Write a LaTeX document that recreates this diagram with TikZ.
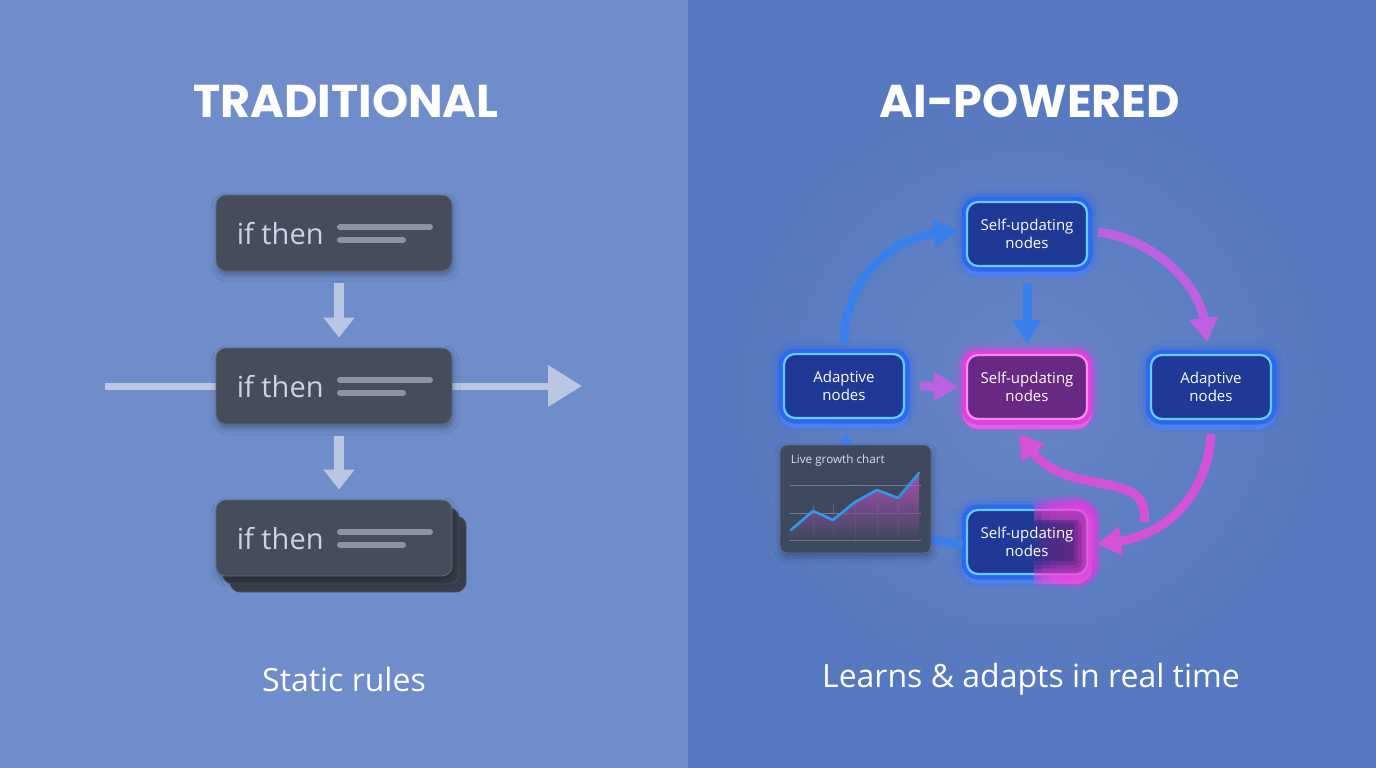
\documentclass[tikz,border=0pt]{standalone}
\usepackage{fontspec}
\setmainfont{Open Sans}
\newfontfamily\titlefont{Poppins}
\usetikzlibrary{arrows.meta,calc,shadows.blur}

\definecolor{bgL}{RGB}{111,141,203}
\definecolor{bgR}{RGB}{86,120,192}
\definecolor{slate}{RGB}{70,76,90}
\definecolor{slateedge}{RGB}{98,106,122}
\definecolor{slateback}{RGB}{56,61,74}
\definecolor{slatetext}{RGB}{200,210,232}
\definecolor{lineg}{RGB}{140,147,162}
\definecolor{arrowL}{RGB}{186,198,226}
\definecolor{nbfill}{RGB}{32,56,150}
\definecolor{nbrim}{RGB}{46,104,238}
\definecolor{ncyan}{RGB}{100,205,255}
\definecolor{npfill}{RGB}{104,40,132}
\definecolor{nprim}{RGB}{222,66,222}
\definecolor{npink}{RGB}{255,140,245}
\definecolor{ablue}{RGB}{58,128,236}
\definecolor{amag}{RGB}{212,82,214}
\definecolor{apurp}{RGB}{190,96,226}
\definecolor{chartbg}{RGB}{62,72,92}
\definecolor{charttxt}{RGB}{215,222,234}

\tikzset{
  rulebox/.style={rectangle, rounded corners=10pt, minimum width=236pt, minimum height=76pt,
    fill=slate, draw=slateedge, line width=0.8pt,
    blur shadow={shadow xshift=1pt, shadow yshift=-4pt, shadow blur radius=6pt, shadow opacity=30}},
  backbox/.style={rectangle, rounded corners=10pt, minimum width=236pt, minimum height=76pt,
    fill=slateback, draw=slate, line width=0.8pt},
  iftext/.style={text=slatetext, font=\fontsize{29}{32}\selectfont, inner sep=0pt},
  bar/.style={draw=lineg, line width=6pt, line cap=round},
  dnarrow/.style={draw=arrowL, line width=10pt, -{Triangle[width=30pt,length=20pt]}},
  harrow/.style={draw=arrowL, line width=7pt},
  nblue/.style={rectangle, rounded corners=11pt, minimum width=120pt, minimum height=64pt,
    align=center, text=white, font=\fontsize{15}{18}\selectfont, fill=nbfill, draw=ncyan, line width=2.2pt,
    preaction={draw=nbrim, line width=26pt, draw opacity=0.12},
    preaction={draw=nbrim, line width=18pt, draw opacity=0.2},
    preaction={draw=nbrim!85!white, line width=10pt, transform canvas={yshift=-5pt}},
    preaction={draw=nbrim, line width=11pt}},
  npinkbox/.style={rectangle, rounded corners=11pt, minimum width=120pt, minimum height=64pt,
    align=center, text=white, font=\fontsize{15}{18}\selectfont, fill=npfill, draw=npink, line width=2.2pt,
    preaction={draw=nprim, line width=26pt, draw opacity=0.12},
    preaction={draw=nprim, line width=18pt, draw opacity=0.2},
    preaction={draw=nprim!85!white, line width=10pt, transform canvas={yshift=-5pt}},
    preaction={draw=nprim, line width=11pt}},
  ntext/.style={rectangle, minimum width=120pt, minimum height=64pt, align=center, text=white,
    font=\fontsize{15}{18}\selectfont},
  carrow/.style={line width=9pt, -{Triangle[width=28pt,length=24pt]}},
  title/.style={text=white, font=\titlefont\bfseries\fontsize{46}{50}\selectfont},
  subtitle/.style={text=white, font=\fontsize{32}{36}\selectfont},
}

\begin{document}
\begin{tikzpicture}[x=1pt,y=-1pt]
\fill[bgL] (0,0) rectangle (688,768);
\fill[bgR] (688,0) rectangle (1376,768);
\useasboundingbox (0,0) rectangle (1376,768);
% soft light in the right panel
\shade[inner color=white, outer color=bgR, opacity=0.10] (1030,390) circle (330);

% titles
\node[title] (t1) at (346,101) {TRADITIONAL};
\node[title] (t2) at (1030,101) {AI-POWERED};

% ---------- traditional ----------
\coordinate (hl) at (105,386);
\coordinate (hr) at (582,386);
\node[rulebox] (b1) at (334,233) {};
\node[rectangle, minimum width=236pt, minimum height=76pt] (b2) at (334,386) {};
\draw[harrow] (hl) -- (b2.west);
\draw[harrow, -{Triangle[width=40pt,length=34pt]}] (b2.east) -- (hr);
\node[rulebox] (b2f) at (334,386) {};

\node[backbox] (b3c) at (348,554) {};
\node[backbox] (b3b) at (341,546) {};
\node[rulebox] (b3) at (334,538) {};

\foreach \b in {b1,b2f,b3}{
  \node[iftext, anchor=west] (\b t) at ($(\b.west)+(21,1)$) {if then};
  \draw[bar] ($(\b.center)+(6,-6)$) -- ++(90,0);
  \draw[bar] ($(\b.center)+(6,7)$) -- ++(63,0);
}

\draw[dnarrow] ($(b1.south)+(5,12)$) -- ($(b2f.north)+(5,-10)$);
\draw[dnarrow] ($(b2f.south)+(5,12)$) -- ($(b3.north)+(5,-10)$);

\node[subtitle] (s1) at (344,679) {Static rules};

% ---------- AI powered ----------
\node[nblue] (nt) at (1027,234) {Self-updating\\nodes};
\node[nblue] (nl) at (844,386) {Adaptive\\nodes};
\node[nblue] (nr) at (1211,387) {Adaptive\\nodes};
\node[npinkbox] (nc) at (1027,387) {Self-updating\\nodes};

% bottom node: blue left, pink right
\node[nblue] (nbb) at (1027,542) {};
\foreach \xc in {1034,1042,1050,1058,1066,1074}{
  \begin{scope}
    \clip (\xc,480) rectangle (1130,610);
    \node[npinkbox, opacity=0.3] at (1027,542) {};
  \end{scope}
}
\node[ntext] (nb) at (1027,542) {Self-updating\\nodes};

% connectors
\draw[carrow, ablue] ($(nl.north)+(0,-10)$) .. controls (845,275) and (895,238) .. ($(nt.west)+(-8,-3)$);
\draw[carrow, apurp] ($(nt.east)+(10,-2)$) .. controls (1160,240) and (1200,290) .. ($(nr.north)+(-4,-12)$);
\draw[carrow, ablue] ($(nt.south)+(0,16)$) -- ($(nc.north)+(0,-10)$);
\draw[carrow, apurp] ($(nl.east)+(15,0)$) -- ($(nc.west)+(-8,0)$);
\draw[carrow, amag] ($(nr.south)+(0,14)$) .. controls (1208,495) and (1165,535) .. ($(nb.east)+(10,2)$);
\coordinate (sj) at (1144,522);
\draw[carrow, amag] (sj) .. controls (1152,468) and (1068,498) .. ($(nc.south)+(-8,14)$);
\draw[carrow, ablue] ($(nb.west)+(-4,2)$) .. controls (900,540) and (846,500) .. ($(nl.south)+(2,14)$);

% chart
\node[rectangle, rounded corners=7pt, minimum width=151pt, minimum height=108pt, fill=chartbg,
  fill opacity=0.95, draw=chartbg!80!white, line width=0.8pt,
  blur shadow={shadow xshift=1pt, shadow yshift=-4pt, shadow blur radius=6pt, shadow opacity=30}] (ch) at (855.5,499) {};
\node[anchor=west, text=charttxt, font=\fontsize{11.7}{13}\selectfont, inner sep=0pt] (cht) at ($(ch.north west)+(11,16)$) {Live growth chart};
\foreach \yy in {485,513,540}{ \draw[draw=white!30!chartbg, line width=0.6pt] (790,\yy) -- (921,\yy); }
\foreach \xx in {813,833,855,877,898}{ \draw[draw=white!15!chartbg, line width=0.5pt] (\xx,505) -- (\xx,540); }
\shade[top color=amag, bottom color=chartbg, opacity=0.7]
  (791,530) -- (813,511) -- (833,520) -- (855,502) -- (877,490) -- (898,498) -- (919,473) -- (919,540) -- (791,540) -- cycle;
\draw[draw=ablue!80!cyan, line width=2.6pt, line join=round, line cap=round]
  (791,530) -- (813,511) -- (833,520) -- (855,502) -- (877,490) -- (898,498);
\draw[draw=cyan!60!ablue, line width=2.6pt, line cap=round] (898,498) -- (919,473);

\node[subtitle] (s2) at (1031,679) {Learns \& adapts in real time};
\end{tikzpicture}
\end{document}
